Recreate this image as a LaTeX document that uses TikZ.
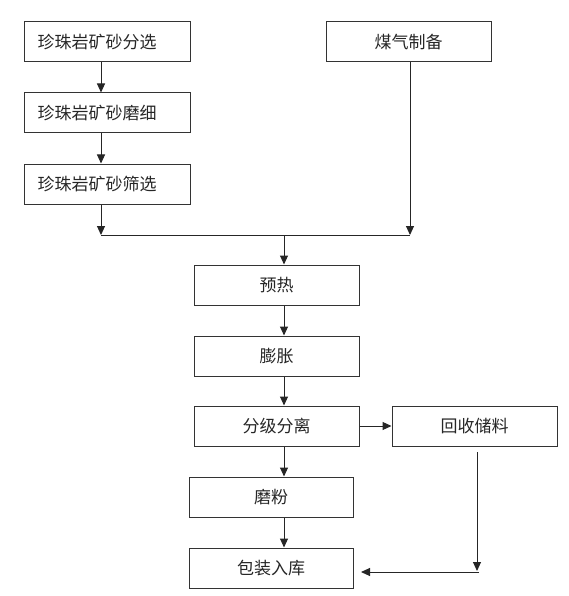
\documentclass[tikz,border=0pt]{standalone}
\usepackage{fontspec}
\setmainfont{Noto Sans CJK SC}
\usetikzlibrary{arrows.meta}
\begin{document}
\begin{tikzpicture}[x=1pt,y=-1pt,
  box/.style={draw=black!80,line width=1pt,minimum height=40pt,inner sep=0pt,font=\fontsize{17}{19}\selectfont,text=black!85},
  arr/.style={draw=black!85,line width=1pt,-{Triangle[length=9pt,width=8pt]}},
  ln/.style={draw=black!85,line width=1pt}]
\useasboundingbox (0,0) rectangle (568,596);
\node[box,minimum width=166pt] (b1) at (107,42) {珍珠岩矿砂分选\kern20pt};
\node[box,minimum width=166pt] (b2) at (107,113) {珍珠岩矿砂磨细\kern20pt};
\node[box,minimum width=166pt] (b3) at (107,184) {珍珠岩矿砂筛选\kern20pt};
\node[box,minimum width=165pt] (coal) at (408.5,42) {煤气制备};
\node[box,minimum width=165pt] (pre) at (276.5,285) {预热};
\node[box,minimum width=165pt] (exp) at (276.5,356) {膨胀};
\node[box,minimum width=165pt] (cls) at (276.5,426) {分级分离};
\node[box,minimum width=165pt] (rec) at (474.5,426) {回收储料};
\node[box,minimum width=164pt] (grd) at (271,497) {磨粉};
\node[box,minimum width=164pt] (pack) at (271,568) {包装入库};
\coordinate (j1) at (101,235);
\coordinate (j2) at (410,235);
\coordinate (jm) at (284,235);
\coordinate (r1) at (477,452);
\coordinate (r2) at (477,571);
\coordinate (r3) at (479,572);
\coordinate (r4) at (361,572);
\draw[arr] (b1.south -| j1) -- (b2.north -| j1);
\draw[arr] (b2.south -| j1) -- (b3.north -| j1);
\draw[arr] (b3.south -| j1) -- (j1);
\draw[arr] (coal.south -| j2) -- (j2);
\draw[ln] (j1) -- (j2);
\draw[arr] (jm) -- (pre.north -| jm);
\draw[arr] (pre.south -| jm) -- (exp.north -| jm);
\draw[arr] (exp.south -| jm) -- (cls.north -| jm);
\draw[arr] (cls.south -| jm) -- (grd.north -| jm);
\draw[arr] (grd.south -| jm) -- (pack.north -| jm);
\draw[arr] (cls.east) -- (rec.west);
\draw[arr] (r1) -- (r2);
\draw[arr] (r3) -- (r4);
\end{tikzpicture}
\end{document}
